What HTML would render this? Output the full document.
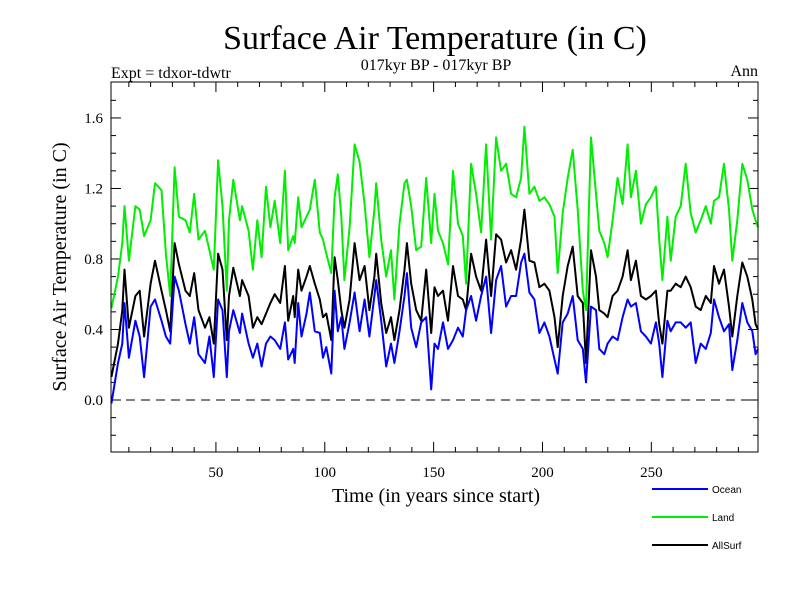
<!DOCTYPE html>
<html><head><meta charset="utf-8"><style>
body{margin:0;background:#fff}
svg text{font-family:"Liberation Serif",serif}
</style></head><body>
<svg id="c" width="800" height="600" xmlns="http://www.w3.org/2000/svg">
<text x="435" y="49" font-size="34" text-anchor="middle">Surface Air Temperature (in C)</text>
<text x="436" y="70" font-size="16" text-anchor="middle">017kyr BP - 017kyr BP</text>
<text x="111" y="78" font-size="16">Expt = tdxor-tdwtr</text>
<text x="758" y="76" font-size="16" text-anchor="end">Ann</text>
<text x="436" y="502" font-size="20" text-anchor="middle">Time (in years since start)</text>
<text transform="translate(66,267) rotate(-90)" font-size="20" text-anchor="middle">Surface Air Temperature (in C)</text>
<g id="ticks"></g>
<g id="series"></g>
<rect x="111" y="82" width="647" height="370" fill="none" stroke="#000" stroke-width="1"/>
<g font-family="Liberation Sans,sans-serif">
<line x1="652" y1="489" x2="708" y2="489" stroke="#0000ff" stroke-width="2"/>
<text x="712" y="493" font-size="10" style="font-family:'Liberation Sans',sans-serif">Ocean</text>
<line x1="652" y1="517" x2="708" y2="517" stroke="#00ee00" stroke-width="2"/>
<text x="712" y="521" font-size="10" style="font-family:'Liberation Sans',sans-serif">Land</text>
<line x1="652" y1="545" x2="708" y2="545" stroke="#000" stroke-width="2"/>
<text x="712" y="549" font-size="10" style="font-family:'Liberation Sans',sans-serif">AllSurf</text>
</g>
</svg>
<script>
const years=[2,5,7,8,10,13,15,17,20,22,25,27,29,31,33,36,38,40,42,45,47,49,51,53,55,56,58,61,62,65,67,69,71,73,75,77,
79.5,81.7,83.2,85.5,86.2,87.8,89.3,91.6,93.1,95.4,97.7,99.2,100.7,103,104.5,106,107.6,109,111.4,113.7,116,118.3,120.5,122.8,123.6,125.9,128.2,130.4,132,134.3,136.6,137.7,139.7,142,144.3,146.6,148.9,150.4,152,
154.3,156.6,158.9,161.2,163.4,164.9,167.2,169.5,171.8,174.1,176.4,178.7,181,183.3,185.6,187.9,190.2,191.7,194,196.3,198.6,200.9,203.2,205.5,207,209.3,211.6,213.9,216.2,218.5,220,222.3,224.6,226.1,
228.4,229.9,232.2,234.5,236.8,239.1,240.6,242.9,245.2,247.5,249.8,252.1,253.6,255.1,257.4,258.9,261.2,263.5,265.8,268.1,270.4,272.7,275,277.3,278.8,281.1,283.4,285.7,287.2,289.5,291.8,294.1,296.4,297.9,299];
const ocean=[-0.02,0.21,0.32,0.55,0.24,0.45,0.36,0.13,0.53,0.57,0.45,0.36,0.32,0.70,0.62,0.43,0.32,0.47,0.26,0.21,0.36,0.13,0.57,0.51,0.13,0.39,0.51,0.38,0.49,0.32,0.24,0.32,0.19,0.32,0.36,0.34,
0.29,0.44,0.23,0.29,0.21,0.55,0.36,0.49,0.61,0.39,0.38,0.24,0.30,0.15,0.62,0.39,0.47,0.29,0.44,0.61,0.39,0.57,0.36,0.59,0.68,0.45,0.19,0.32,0.21,0.39,0.59,0.72,0.41,0.30,0.44,0.47,0.06,0.32,0.29,
0.44,0.29,0.34,0.41,0.36,0.51,0.59,0.45,0.59,0.70,0.38,0.68,0.76,0.53,0.59,0.59,0.78,0.83,0.61,0.57,0.38,0.44,0.36,0.23,0.15,0.44,0.49,0.59,0.34,0.29,0.10,0.53,0.51,0.29,
0.26,0.32,0.36,0.34,0.47,0.57,0.53,0.55,0.39,0.36,0.32,0.44,0.32,0.13,0.45,0.39,0.44,0.44,0.41,0.44,0.21,0.32,0.29,0.38,0.57,0.47,0.39,0.43,0.17,0.34,0.55,0.44,0.39,0.26,0.29];
const land=[0.52,0.70,0.89,1.10,0.79,1.10,1.08,0.93,1.02,1.23,1.19,0.83,0.59,1.32,1.04,1.02,0.95,1.17,0.91,0.96,0.85,0.74,1.36,1.10,0.62,1.02,1.25,1.02,1.10,0.96,0.74,1.02,0.81,1.21,0.98,1.13,
0.89,1.30,0.85,0.93,0.89,1.15,0.98,1.04,1.08,1.25,0.95,0.91,0.83,0.72,1.15,1.28,1.04,0.68,0.98,1.45,1.35,1.11,0.81,1.08,1.23,0.91,0.70,0.85,0.57,1.00,1.23,1.25,1.10,0.85,0.87,1.26,0.89,1.17,0.96,
0.89,0.77,1.30,1.00,0.93,0.66,1.34,1.17,0.95,1.45,0.91,1.49,1.30,1.34,1.17,1.15,1.26,1.55,1.17,1.21,1.13,1.15,1.11,1.04,0.72,1.06,1.26,1.42,1.08,0.62,0.51,1.49,1.17,0.96,
0.89,0.81,1.02,1.26,1.11,1.45,1.15,1.30,1.00,1.11,1.15,1.21,0.91,0.68,1.04,0.79,1.04,1.10,1.34,1.06,0.95,1.02,1.10,1.00,1.13,1.15,1.34,1.08,0.79,1.02,1.34,1.25,1.08,1.02,0.98];
const allsurf=[0.13,0.32,0.51,0.74,0.41,0.59,0.62,0.36,0.66,0.79,0.62,0.51,0.39,0.89,0.77,0.62,0.59,0.72,0.51,0.41,0.47,0.32,0.83,0.74,0.34,0.59,0.75,0.59,0.68,0.59,0.41,0.47,0.43,0.49,0.55,0.60,
0.55,0.76,0.45,0.59,0.47,0.74,0.62,0.70,0.76,0.66,0.57,0.47,0.49,0.34,0.81,0.68,0.51,0.41,0.57,0.89,0.68,0.76,0.51,0.70,0.83,0.55,0.38,0.47,0.34,0.51,0.74,0.89,0.66,0.51,0.45,0.74,0.38,0.64,0.59,
0.62,0.45,0.76,0.59,0.57,0.51,0.83,0.70,0.62,0.91,0.59,0.94,0.91,0.78,0.85,0.74,0.91,1.08,0.79,0.78,0.64,0.66,0.62,0.47,0.30,0.59,0.76,0.87,0.59,0.55,0.21,0.85,0.70,0.51,
0.49,0.47,0.59,0.62,0.70,0.85,0.68,0.79,0.59,0.57,0.59,0.62,0.43,0.32,0.62,0.62,0.66,0.64,0.70,0.64,0.53,0.51,0.59,0.55,0.76,0.66,0.74,0.53,0.36,0.59,0.78,0.70,0.57,0.43,0.40];
const yTickVals=[0,0.4,0.8,1.2,1.6];
const yTickLabels=["0.0","0.4","0.8","1.2","1.6"];
const xTickVals=[50,100,150,200,250];
const xTickLabels=["50","100","150","200","250"];

const X0=1.8,X1=299,PX0=111,PX1=758,YMIN=-0.295,YMAX=1.804,PY0=452,PY1=82;
function sx(v){return PX0+(v-X0)/(X1-X0)*(PX1-PX0);}
function sy(v){return PY0-(v-YMIN)/(YMAX-YMIN)*(PY0-PY1);}
const NS="http://www.w3.org/2000/svg";
function mk(tag,at){const e=document.createElementNS(NS,tag);for(const k in at)e.setAttribute(k,at[k]);return e;}
const tg=document.getElementById('ticks');
for(let v=-0.2;v<=1.75;v+=0.1){const y=sy(v);const major=Math.abs(Math.round(v*10)%4)==0;const L=major?10:5;
 const a=mk('line',{x1:PX0,x2:PX0+L,y1:y,y2:y,stroke:'#000'});
 
 
 tg.appendChild(a);
 const b=mk('line',{x1:PX1-L,x2:PX1,y1:y,y2:y,stroke:'#000'});
 
 
 tg.appendChild(b);}
yTickVals.forEach((v,i)=>{const t=mk('text',{x:103,y:sy(v)+5,'font-size':15,'text-anchor':'end'});t.textContent=yTickLabels[i];
 
 
 tg.appendChild(t);});
for(let v=10;v<=290;v+=10){const x=sx(v);const L=(v%50==0)?10:5;
 const a=mk('line',{x1:x,x2:x,y1:PY0-L,y2:PY0,stroke:'#000'});
 
 
 tg.appendChild(a);
 const b=mk('line',{x1:x,x2:x,y1:PY1,y2:PY1+L,stroke:'#000'});
 
 
 tg.appendChild(b);}
xTickVals.forEach((v,i)=>{const t=mk('text',{x:sx(v),y:477,'font-size':15,'text-anchor':'middle'});t.textContent=xTickLabels[i];
 
 
 tg.appendChild(t);});
const sg=document.getElementById('series');
const z=mk('line',{x1:PX0,x2:PX1,y1:sy(0),y2:sy(0),stroke:'#000','stroke-dasharray':'9,6'});


sg.appendChild(z);
function draw(vals,color,name){const d=vals.map((v,i)=>(i?'L':'M')+sx(years[i]).toFixed(1)+','+sy(v).toFixed(1)).join('');
 const p=mk('path',{d:d,fill:'none',stroke:color,'stroke-width':2,'stroke-linejoin':'round'});
 
 
 sg.appendChild(p);}
draw(land,'#00ee00','land-line');
draw(allsurf,'#000000','allsurf-line');
draw(ocean,'#0000ff','ocean-line');
</script>
</body></html>
